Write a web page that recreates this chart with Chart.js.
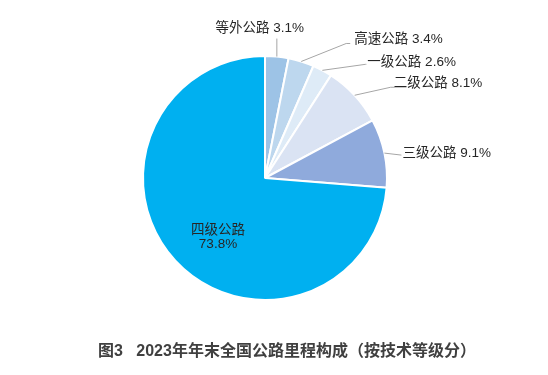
<!DOCTYPE html>
<html>
<head>
<meta charset="utf-8">
<script src="https://cdn.jsdelivr.net/npm/chart.js@4"></script>
<style>
  html, body { margin: 0; padding: 0; background: #fff; }
  #wrap { width: 548px; height: 375px; position: relative; }
</style>
</head>
<body>
<div id="wrap"><canvas id="pieChart" width="548" height="375"></canvas></div>
<script>
// Chart data
const categories = ['等外公路', '高速公路', '一级公路', '二级公路', '三级公路', '四级公路'];
const shares = [3.1, 3.4, 2.6, 8.1, 9.1, 73.8];
const sliceColors = ['#9DC3E6', '#BDD7EE', '#DEEBF7', '#DAE3F3', '#8FAADC', '#00B0F0'];
const chartTitle = '图3   2023年年末全国公路里程构成（按技术等级分）';

const FONT = '"Liberation Sans", "Noto Sans CJK SC", sans-serif';

// Leader lines + labels, placed the way the original spreadsheet did it
const labelPlugin = {
    id: 'pieLabels',
    afterDatasetsDraw(chart, args, opts) {
        const ctx = chart.ctx;
        const arcs = chart.getDatasetMeta(0).data;
        ctx.save();
        ctx.font = '13.5px ' + FONT;
        ctx.textBaseline = 'middle';
        arcs.forEach((arc, i) => {
            const p = arc.getProps(['x', 'y', 'startAngle', 'endAngle', 'outerRadius'], true);
            const mid = (p.startAngle + p.endAngle) / 2;
            const text = categories[i] + ' ' + shares[i].toFixed(1) + '%';
            const place = opts.places[i];
            if (place.inside) {
                ctx.fillStyle = '#262626';
                ctx.textAlign = 'center';
                ctx.fillText(categories[i], p.x + place.dx, p.y + place.dy);
                ctx.fillText(shares[i].toFixed(1) + '%', p.x + place.dx, p.y + place.dy + 14);
                return;
            }
            const ex = p.x + Math.cos(mid) * p.outerRadius;
            const ey = p.y + Math.sin(mid) * p.outerRadius;
            const lx = ex + place.dx, ly = ey + place.dy;
            ctx.strokeStyle = '#A6A6A6';
            ctx.lineWidth = 1;
            ctx.beginPath();
            ctx.moveTo(ex, ey);
            ctx.lineTo(lx, ly);
            if (place.tail) ctx.lineTo(lx + place.tail, ly);
            ctx.stroke();
            ctx.fillStyle = '#262626';
            ctx.textAlign = place.align;
            ctx.fillText(text, lx + place.tx, ly + place.ty);
        });
        // title under the pie
        ctx.font = 'bold 16px ' + FONT;
        ctx.fillStyle = '#404040';
        ctx.textAlign = 'center';
        ctx.fillText(chartTitle, 287, 352);
        ctx.restore();
    }
};

const ctx = document.getElementById('pieChart').getContext('2d');
new Chart(ctx, {
    type: 'pie',
    data: {
        labels: categories,
        datasets: [{
            data: shares,
            backgroundColor: sliceColors,
            borderColor: '#ffffff',
            borderWidth: 2
        }]
    },
    options: {
        responsive: false,
        animation: false,
        layout: { padding: { left: 142, right: 160, top: 55, bottom: 74 } },
        plugins: {
            legend: { display: false },
            tooltip: { enabled: false },
            pieLabels: {
                places: [
                    { dx: 0, dy: -18, align: 'center', tx: -17, ty: -10 },
                    { dx: 45, dy: -18, tail: 4, align: 'left', tx: 8, ty: -4 },
                    { dx: 43, dy: -6, tail: 1, align: 'left', tx: 2, ty: -2 },
                    { dx: 36, dy: -8, tail: 4, align: 'left', tx: 3, ty: -4 },
                    { dx: 17, dy: 2, align: 'left', tx: 1, ty: -2 },
                    { inside: true, dx: -47, dy: 52 }
                ]
            }
        }
    },
    plugins: [labelPlugin]
});
</script>
</body>
</html>
